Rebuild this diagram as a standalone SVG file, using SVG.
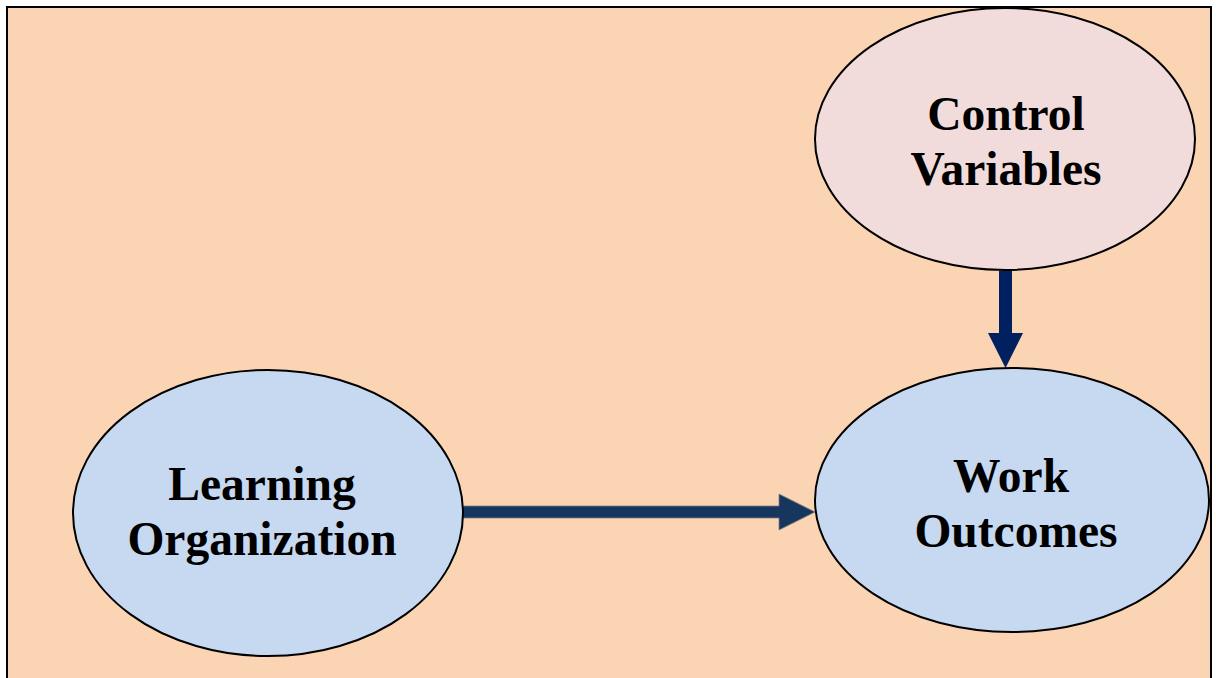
<svg xmlns="http://www.w3.org/2000/svg" width="1216" height="678" viewBox="0 0 1216 678">
  <style>
    .node { stroke: #000; stroke-width: 2; }
    .blue { fill: #C6D9F1; }
    .pink { fill: #F2DCDB; }
    .label { font-family: "Liberation Serif", "Times New Roman", serif; font-weight: bold; font-size: 47.5px; fill: #000; text-anchor: middle; }
  </style>
  <!-- background panel -->
  <rect x="0" y="0" width="1216" height="678" fill="#FFFFFF"/>
  <rect x="7" y="7" width="1204" height="680" fill="#FBD4B4" stroke="#000" stroke-width="2"/>

  <g id="connectors">
    <!-- Learning Organization -> Work Outcomes -->
    <polygon points="463,506 779,506 779,494 815,512 779,530 779,518 463,518" fill="#17365D" stroke="#7F7F7F" stroke-width="0.8"/>
    <!-- Control Variables -> Work Outcomes -->
    <polygon points="999,271 1012,271 1012,333 1023,333 1005.5,368 988,333 999,333" fill="#002060"/>
  </g>

  <g id="control-variables">
    <ellipse class="node pink" cx="1005" cy="139" rx="190" ry="131"/>
    <text class="label" x="1006" y="130">Control</text>
    <text class="label" x="1006" y="185">Variables</text>
  </g>

  <g id="learning-organization">
    <ellipse class="node blue" cx="268" cy="513" rx="195" ry="143"/>
    <text class="label" x="262" y="500">Learning</text>
    <text class="label" x="262" y="555">Organization</text>
  </g>

  <g id="work-outcomes">
    <ellipse class="node blue" cx="1012" cy="500" rx="197" ry="132"/>
    <text class="label" x="1011" y="492">Work</text>
    <text class="label" x="1016" y="547">Outcomes</text>
  </g>
</svg>
